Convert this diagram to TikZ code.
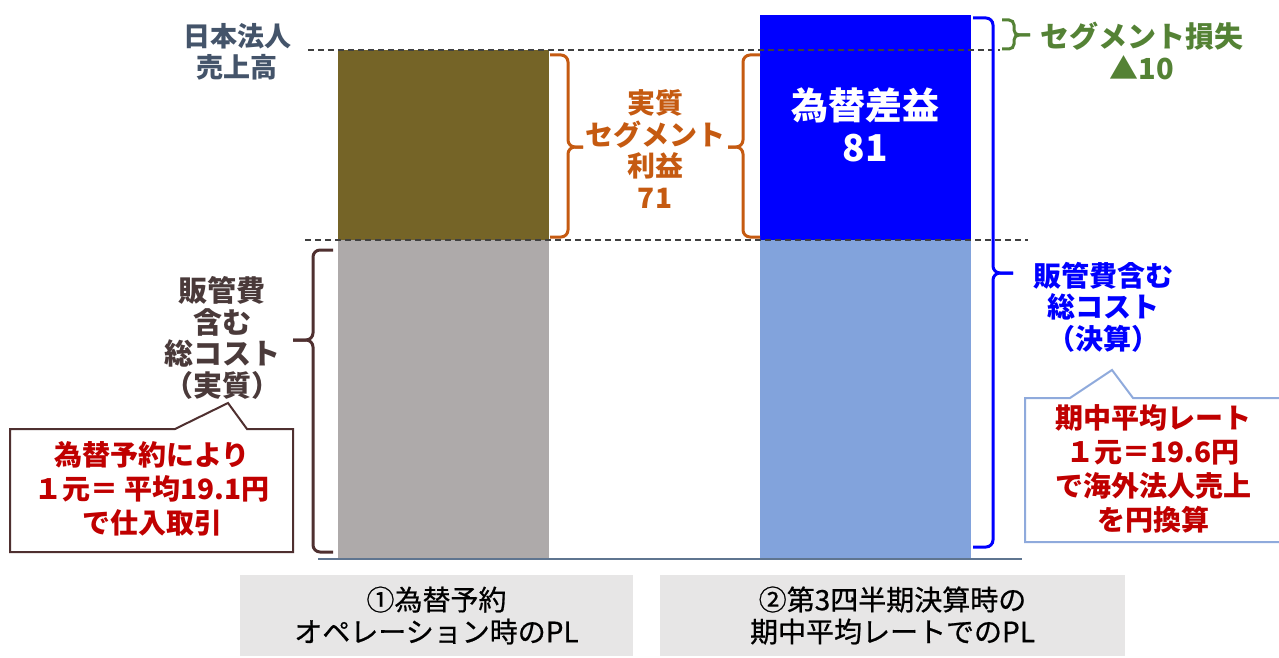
\documentclass[tikz,border=0pt]{standalone}
\usepackage{fontspec}
\setmainfont{Noto Sans CJK JP}
\newfontfamily\jpmed[FakeBold=0.7]{Noto Sans CJK JP}
\definecolor{olive}{HTML}{756427}
\definecolor{bargray}{HTML}{AEAAAA}
\definecolor{barlblue}{HTML}{82A3DC}
\definecolor{pureblue}{HTML}{0000FF}
\definecolor{orng}{HTML}{C55A11}
\definecolor{grn}{HTML}{548235}
\definecolor{dred}{HTML}{C00000}
\definecolor{brn}{HTML}{4F3030}
\definecolor{brntext}{HTML}{4A3A3A}
\definecolor{slate}{HTML}{44546A}
\definecolor{dashcol}{HTML}{404040}
\definecolor{boxgray}{HTML}{E7E6E6}
\definecolor{axisc}{HTML}{5F7590}
\definecolor{calblue}{HTML}{8FAADC}
\tikzset{
  lbl/.style={align=center,font=\bfseries\fontsize{28}{31.5}\selectfont,inner sep=0pt},
  calltext/.style={align=center,font=\bfseries\fontsize{28}{34}\selectfont,text=dred,inner sep=0pt},
  bottomtext/.style={align=center,font=\jpmed\fontsize{28}{32}\selectfont,text=black,inner sep=0pt},
  bracestyle/.style={line width=3pt,rounded corners=7pt},
  dashline/.style={draw=dashcol,line width=1.6pt,dash pattern=on 6pt off 4pt},
}
\begin{document}
\begin{tikzpicture}[x=1pt,y=-1pt]
\useasboundingbox (0,0) rectangle (1279,658);
% bars
\fill[olive] (338,50) rectangle (549,240);
\fill[bargray] (338,240) rectangle (549,558);
\fill[pureblue] (760,15) rectangle (971,240);
\fill[barlblue] (760,240) rectangle (971,558);
% axis
\draw[axisc,line width=1.5pt] (318,559) -- (1022,559);
% dashed lines
\draw[dashline] (308,50) -- (1000,50);
\draw[dashline] (305,240) -- (1028,240);
% top-left label
\node[lbl,text=slate,font=\bfseries\fontsize{27}{31.5}\selectfont] (sales) at (237,52) {日本法人\\売上高};
% orange braces
\draw[orng,bracestyle] (550,55) -| (568,147) -- (583,147);
\draw[orng,bracestyle] (550,237) -| (568,147) -- (583,147);
\draw[orng,bracestyle] (760,55) -| (743,147) -- (728,147);
\draw[orng,bracestyle] (760,237) -| (743,147) -- (728,147);
\node[lbl,text=orng] (profit) at (655,149) {実質\\セグメント\\利益\\71};
% white text in blue bar
\node[align=center,font=\bfseries\fontsize{37}{42}\selectfont,text=white,inner sep=0pt] (fxgain) at (865,125) {為替差益\\81};
% blue brace
\draw[pureblue,bracestyle] (973,18) -| (993,273) -- (1013,273);
\draw[pureblue,bracestyle] (973,547) -| (993,273) -- (1013,273);
% green brace
\draw[grn,bracestyle,rounded corners=5pt] (1002,20) -| (1014,35) -- (1030,35);
\draw[grn,bracestyle,rounded corners=5pt] (1002,49) -| (1014,35) -- (1030,35);
\node[lbl,text=grn,font=\bfseries\fontsize{29}{32}\selectfont] (loss) at (1142,51) {セグメント損失\\▲10};
% blue cost text
\node[lbl,text=pureblue] (costb) at (1103,307) {販管費含む\\総コスト\\（決算）};
% right callout
\draw[calblue,line width=2pt,fill=white] (1025,398) -- (1070,398) -- (1112,370) -- (1133,398) -- (1290,398) -- (1290,542) -- (1025,542) -- cycle;
\node[calltext] (callr) at (1153,469) {期中平均レート\\１元＝19.6円\\で海外法人売上\\を円換算};
% brown brace
\draw[brn,bracestyle] (333,250) -| (313,340) -- (293,340);
\draw[brn,bracestyle] (333,552) -| (313,340) -- (293,340);
\node[lbl,text=brntext,font=\bfseries\fontsize{29}{31.5}\selectfont] (costa) at (222,338) {販管費\\含む\\総コスト\\（実質）};
% left callout
\draw[brn,line width=2pt,fill=white] (10,429) -- (175,429) -- (228,403) -- (247,429) -- (293,429) -- (293,552) -- (10,552) -- cycle;
\node[calltext] (calll) at (152,489) {為替予約により\\１元＝ 平均19.1円\\で仕入取引};
% bottom boxes
\node[fill=boxgray,minimum width=393pt,minimum height=81pt,inner sep=0pt] (box1) at (436.5,615.5) {};
\node[fill=boxgray,minimum width=465pt,minimum height=81pt,inner sep=0pt] (box2) at (892.5,615.5) {};
\node[bottomtext] at (box1) {①為替予約\\オペレーション時のPL};
\node[bottomtext] at (box2) {②第3四半期決算時の\\期中平均レートでのPL};
\end{tikzpicture}
\end{document}
